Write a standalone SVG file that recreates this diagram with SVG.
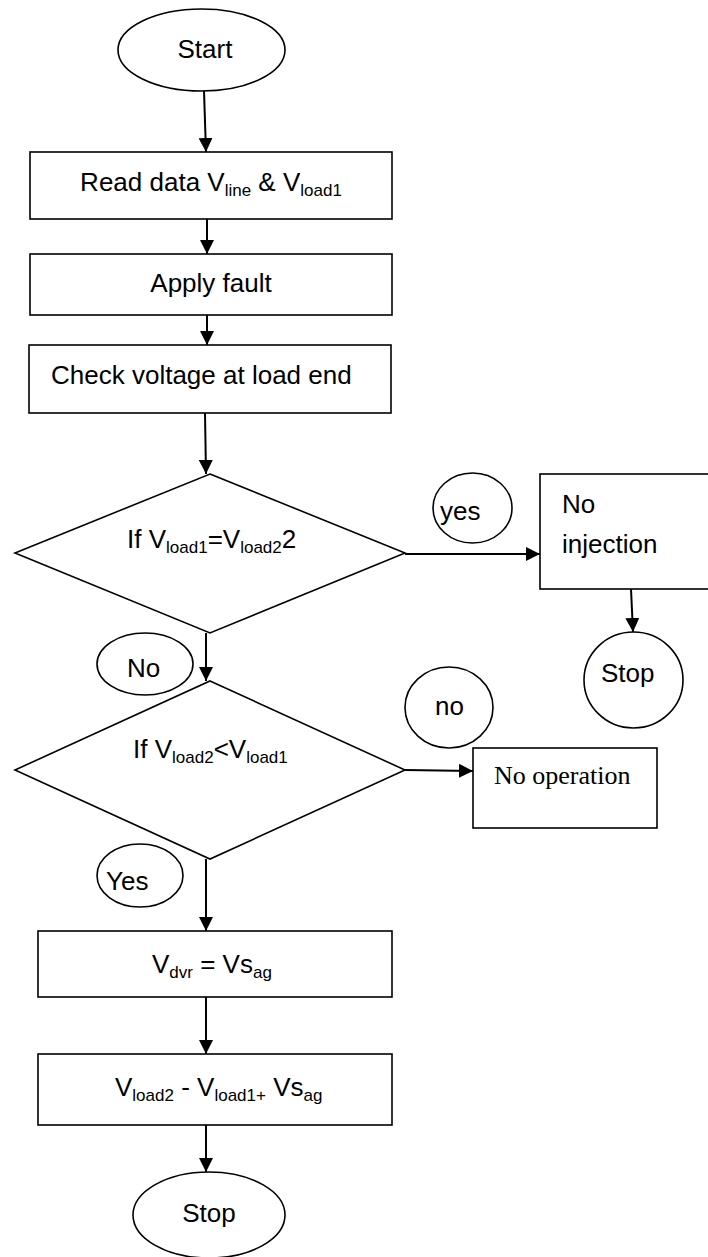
<svg xmlns="http://www.w3.org/2000/svg" width="708" height="1257" viewBox="0 0 708 1257">
<defs>
<marker id="arrow" viewBox="0 0 14 14" refX="14" refY="7" markerWidth="14" markerHeight="14" markerUnits="userSpaceOnUse" orient="auto">
<path d="M0,0 L14,7 L0,14 z" fill="#000"/>
</marker>
<style>
.shape{fill:#fff;stroke:#000;stroke-width:1.6}
.conn{fill:none;stroke:#000;stroke-width:2;marker-end:url(#arrow)}
.t{font-family:"Liberation Sans",Arial,sans-serif;font-size:26px;fill:#000}
.s{font-size:17px}
.serif{font-family:"Liberation Serif","Times New Roman",serif;font-size:26px;fill:#000}
</style>
</defs>
<rect width="708" height="1257" fill="#fff"/>
<g id="connectors">
<line class="conn" x1="204" y1="91" x2="206" y2="152"/>
<line class="conn" x1="207" y1="219" x2="207" y2="254"/>
<line class="conn" x1="207" y1="315" x2="207" y2="345"/>
<line class="conn" x1="205" y1="413" x2="206" y2="474"/>
<line class="conn" x1="405" y1="554" x2="540" y2="554"/>
<line class="conn" x1="631" y1="589" x2="633" y2="632"/>
<line class="conn" x1="206" y1="633" x2="206" y2="681"/>
<line class="conn" x1="405" y1="770" x2="473" y2="771"/>
<line class="conn" x1="206" y1="859" x2="206" y2="931"/>
<line class="conn" x1="206" y1="997" x2="206" y2="1054"/>
<line class="conn" x1="206" y1="1125" x2="206" y2="1172"/>
</g>
<g id="start">
<ellipse class="shape" cx="201.5" cy="50" rx="83.5" ry="41"/>
<text class="t" x="205" y="58" text-anchor="middle">Start</text>
</g>
<g id="read-data">
<rect class="shape" x="30" y="152" width="362" height="67"/>
<text class="t" x="211" y="191" text-anchor="middle">Read data V<tspan class="s" dy="5">line</tspan><tspan dy="-5"> &amp; V</tspan><tspan class="s" dy="5">load1</tspan></text>
</g>
<g id="apply-fault">
<rect class="shape" x="30" y="254" width="362" height="61"/>
<text class="t" x="211" y="292" text-anchor="middle">Apply fault</text>
</g>
<g id="check-voltage">
<rect class="shape" x="29" y="345" width="362" height="68"/>
<text class="t" x="51" y="384">Check voltage at load end</text>
</g>
<g id="decision1">
<polygon class="shape" points="210,474 405,553 210,633 15,553"/>
<text class="t" x="127" y="548">If V<tspan class="s" dy="5">load1</tspan><tspan dy="-5">=V</tspan><tspan class="s" dy="5">load2</tspan><tspan dy="-5">2</tspan></text>
</g>
<g id="label-yes1">
<ellipse class="shape" cx="472.5" cy="508" rx="39.5" ry="35"/>
<text class="t" x="440" y="520">yes</text>
</g>
<g id="no-injection">
<rect class="shape" x="540" y="474" width="200" height="115"/>
<text class="t" x="562" y="513">No</text>
<text class="t" x="562" y="553">injection</text>
</g>
<g id="stop1">
<ellipse class="shape" cx="633.5" cy="680" rx="49.5" ry="48"/>
<text class="t" x="601" y="682">Stop</text>
</g>
<g id="label-no1">
<ellipse class="shape" cx="145" cy="664" rx="48" ry="31"/>
<text class="t" x="127" y="677">No</text>
</g>
<g id="decision2">
<polygon class="shape" points="210,681 405,770 210,859 15,770"/>
<text class="t" x="133" y="758">If V<tspan class="s" dy="5">load2</tspan><tspan dy="-5">&lt;V</tspan><tspan class="s" dy="5">load1</tspan></text>
</g>
<g id="label-no2">
<ellipse class="shape" cx="449" cy="707.5" rx="44" ry="40.5"/>
<text class="t" x="435" y="715">no</text>
</g>
<g id="no-operation">
<rect class="shape" x="473" y="748" width="184" height="80"/>
<text class="serif" x="494" y="784">No operation</text>
</g>
<g id="label-yes2">
<ellipse class="shape" cx="140" cy="875.5" rx="43" ry="31.5"/>
<text class="t" x="106" y="890">Yes</text>
</g>
<g id="vdvr">
<rect class="shape" x="38" y="931" width="354" height="66"/>
<text class="t" x="152" y="973">V<tspan class="s" dy="5">dvr</tspan><tspan dy="-5"> = Vs</tspan><tspan class="s" dy="5">ag</tspan></text>
</g>
<g id="vload">
<rect class="shape" x="38" y="1054" width="354" height="71"/>
<text class="t" x="115" y="1096">V<tspan class="s" dy="5">load2</tspan><tspan dy="-5"> - V</tspan><tspan class="s" dy="5">load1+</tspan><tspan dy="-5"> Vs</tspan><tspan class="s" dy="5">ag</tspan></text>
</g>
<g id="stop2">
<ellipse class="shape" cx="209" cy="1215" rx="76" ry="43"/>
<text class="t" x="209" y="1222" text-anchor="middle">Stop</text>
</g>
</svg>
